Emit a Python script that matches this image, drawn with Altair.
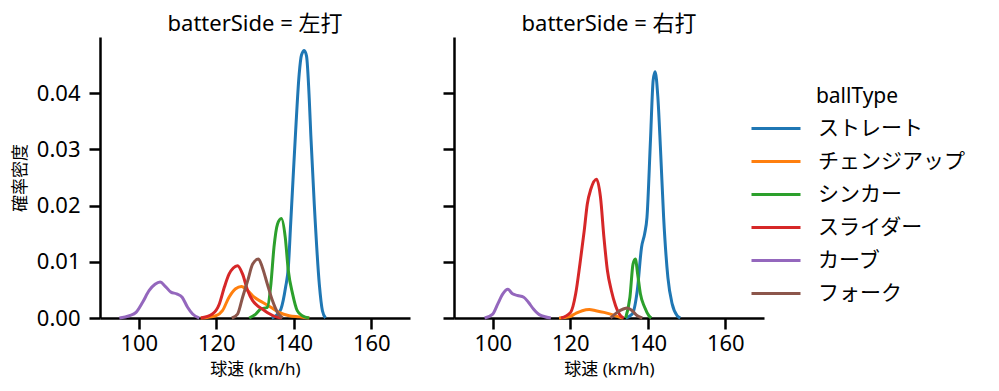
import altair as alt
import pandas as pd

FONT = "Noto Sans, Noto Sans CJK JP"
TYPES = ["ストレート", "チェンジアップ", "シンカー", "スライダー", "カーブ", "フォーク"]
COLORS = ["#1f77b4", "#ff7f0e", "#2ca02c", "#d62728", "#9467bd", "#8c564b"]
X_TICKS = [100, 120, 140, 160]
Y_TICKS = [0.0, 0.01, 0.02, 0.03, 0.04]

# ---- left-handed batters (左打) ----
L_STRAIGHT_X = [134.3, 135.4, 136.7, 137.9, 138.6, 139.2, 139.8, 140.5, 141.4, 142.0, 142.7, 143.3, 144.0, 144.4, 145.3, 146.6, 147.4, 148.2]
L_STRAIGHT_Y = [0.0, 0.0004, 0.0016, 0.0055, 0.009, 0.0167, 0.0245, 0.0334, 0.0434, 0.0468, 0.0476, 0.0466, 0.039, 0.0326, 0.0202, 0.006, 0.0013, 0.0]
L_CHANGE_X = [116.0, 119.9, 121.6, 123.3, 125.0, 126.5, 128.1, 129.8, 131.9, 134.1, 136.2, 138.8, 141.4, 144.0]
L_CHANGE_Y = [0.0, 0.0004, 0.0013, 0.0037, 0.0052, 0.0056, 0.0049, 0.0037, 0.0028, 0.0019, 0.001, 0.0004, 0.0002, 0.0]
L_SINKER_X = [128.5, 130.2, 131.5, 133.2, 134.1, 134.9, 135.8, 136.8, 137.8, 138.6, 139.7, 140.9, 142.2, 144.0]
L_SINKER_Y = [0.0, 0.0007, 0.0016, 0.0019, 0.006, 0.0126, 0.0167, 0.0177, 0.0144, 0.0084, 0.0043, 0.0013, 0.0004, 0.0]
L_SLIDER_X = [116.0, 119.0, 120.8, 122.1, 123.3, 124.4, 125.5, 126.8, 128.1, 129.4, 130.6, 131.9, 133.6, 135.4, 136.7]
L_SLIDER_Y = [0.0, 0.0007, 0.0025, 0.0055, 0.0078, 0.0089, 0.0093, 0.0078, 0.0049, 0.0031, 0.0022, 0.0016, 0.0008, 0.0002, 0.0]
L_CURVE_X = [95.0, 97.6, 99.3, 101.0, 102.7, 104.2, 105.5, 106.9, 108.3, 109.8, 111.2, 112.6, 113.9, 115.6]
L_CURVE_Y = [0.0, 0.0004, 0.001, 0.0028, 0.0049, 0.006, 0.0064, 0.0056, 0.0046, 0.0043, 0.0037, 0.0019, 0.0007, 0.0]
L_FORK_X = [124.0, 125.5, 126.8, 128.1, 129.4, 130.9, 131.9, 133.2, 134.5, 135.8, 137.1]
L_FORK_Y = [0.0, 0.0007, 0.0037, 0.0066, 0.0096, 0.0105, 0.009, 0.006, 0.0031, 0.001, 0.0]

# ---- right-handed batters (右打) ----
R_STRAIGHT_X = [134.3, 136.0, 137.3, 138.4, 139.2, 139.8, 140.7, 141.4, 141.9, 142.6, 143.3, 144.1, 145.2, 146.3, 147.6, 148.4]
R_STRAIGHT_Y = [0.0, 0.0007, 0.0049, 0.0126, 0.015, 0.0179, 0.0316, 0.0423, 0.0438, 0.0394, 0.0299, 0.0179, 0.0072, 0.0025, 0.0004, 0.0]
R_CHANGE_X = [117.1, 119.7, 121.4, 123.1, 124.9, 126.6, 128.7, 130.8, 133.0, 133.7]
R_CHANGE_Y = [0.0, 0.0002, 0.0008, 0.0013, 0.0015, 0.0013, 0.001, 0.0006, 0.0001, 0.0]
R_SINKER_X = [134.3, 135.4, 136.2, 136.8, 137.4, 138.1, 139.2, 140.3, 140.9]
R_SINKER_Y = [0.0, 0.0037, 0.0096, 0.0105, 0.0078, 0.0043, 0.0019, 0.0004, 0.0]
R_SLIDER_X = [117.6, 120.1, 121.4, 122.5, 123.6, 124.4, 125.3, 126.8, 127.8, 128.7, 129.6, 130.6, 131.7, 133.0, 133.8]
R_SLIDER_Y = [0.0, 0.001, 0.0043, 0.0096, 0.0155, 0.0203, 0.0229, 0.0247, 0.0215, 0.0143, 0.0084, 0.0049, 0.0022, 0.0004, 0.0]
R_CURVE_X = [97.9, 100.0, 101.3, 102.6, 103.9, 105.1, 106.4, 108.0, 109.2, 110.5, 112.0, 115.0]
R_CURVE_Y = [0.0, 0.0007, 0.0025, 0.0043, 0.0051, 0.0043, 0.004, 0.0037, 0.0028, 0.0016, 0.0006, 0.0]
R_FORK_X = [130.4, 132.1, 133.7, 134.7, 136.0, 137.3, 138.6]
R_FORK_Y = [0.0, 0.001, 0.0016, 0.0018, 0.0013, 0.0004, 0.0]

SERIES = {
    "左打": [(L_STRAIGHT_X, L_STRAIGHT_Y), (L_CHANGE_X, L_CHANGE_Y), (L_SINKER_X, L_SINKER_Y),
            (L_SLIDER_X, L_SLIDER_Y), (L_CURVE_X, L_CURVE_Y), (L_FORK_X, L_FORK_Y)],
    "右打": [(R_STRAIGHT_X, R_STRAIGHT_Y), (R_CHANGE_X, R_CHANGE_Y), (R_SINKER_X, R_SINKER_Y),
            (R_SLIDER_X, R_SLIDER_Y), (R_CURVE_X, R_CURVE_Y), (R_FORK_X, R_FORK_Y)],
}

rows = []
for side, lst in SERIES.items():
    for t, (xs, ys) in zip(TYPES, lst):
        for xv, yv in zip(xs, ys):
            rows.append({"batterSide": side, "ballType": t, "speed": xv, "density": yv})
df = pd.DataFrame(rows)


def panel(side, show_labels):
    yaxis_kw = dict(values=Y_TICKS, format=".2f", labels=show_labels)
    yaxis_kw["title"] = "確率密度" if show_labels else ""
    return (
        alt.Chart(df)
        .transform_filter(alt.datum.batterSide == side)
        .mark_line(interpolate="monotone", strokeWidth=3)
        .encode(
            x=alt.X("speed:Q", scale=alt.Scale(domain=[90, 170], nice=False, zero=False),
                    axis=alt.Axis(values=X_TICKS, title="球速 (km/h)")),
            y=alt.Y("density:Q", scale=alt.Scale(domain=[0, 0.05], nice=False),
                    axis=alt.Axis(**yaxis_kw)),
            color=alt.Color("ballType:N", sort=TYPES,
                            scale=alt.Scale(domain=TYPES, range=COLORS),
                            legend=alt.Legend(title="ballType", orient="none",
                                              legendX=650, legendY=49,
                                              symbolType="stroke", symbolStrokeWidth=3,
                                              symbolSize=2401, labelOffset=16,
                                              titleAnchor="middle", rowPadding=0,
                                              clipHeight=33, titlePadding=5)),
        )
        .properties(width=310, height=281, title=f"batterSide = {side}")
    )


chart = (
    alt.hconcat(panel("左打", True), panel("右打", False), spacing=31)
    .properties(padding={"left": 3, "top": 5, "right": 5, "bottom": 5})
    .configure_view(stroke=None)
    .configure_axis(grid=False, domainColor="black", domainWidth=2.5, tickColor="black",
                    tickWidth=2.5, tickSize=11, labelFont=FONT, titleFont=FONT,
                    labelFontSize=22, titleFontSize=17, labelColor="black",
                    titleColor="black", titleFontWeight="normal")
    .configure_axisY(labelPadding=9, titlePadding=7)
    .configure_axisX(labelPadding=4, titlePadding=7)
    .configure_title(font=FONT, fontSize=22, fontWeight="normal", color="black",
                     anchor="middle", offset=1)
    .configure_legend(labelFont=FONT, titleFont=FONT, labelFontSize=21, titleFontSize=21,
                      titleFontWeight="normal", labelColor="black", titleColor="black")
)

chart.save("out.html", embed_options={"renderer": "svg", "actions": False})
